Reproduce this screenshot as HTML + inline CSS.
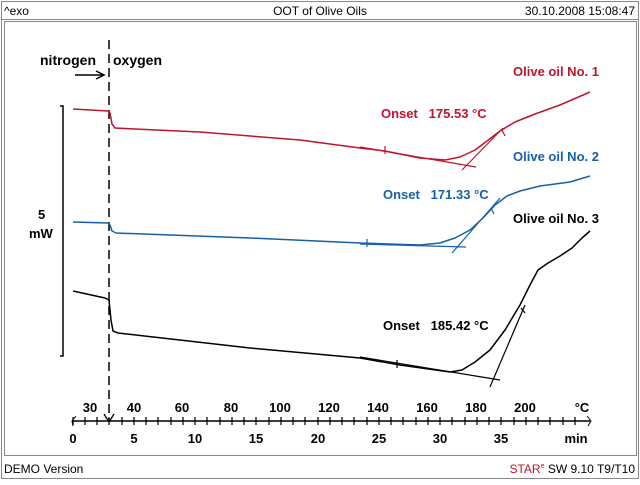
<!DOCTYPE html>
<html><head><style>
body{margin:0;background:#fff;}
svg text{font-family:"Liberation Sans",Arial,sans-serif;}
</style></head><body>
<svg width="640" height="480" viewBox="0 0 640 480" xmlns="http://www.w3.org/2000/svg">
<rect x="1.5" y="1.5" width="637" height="477" fill="#fff" stroke="#888"/>
<line x1="1.5" y1="19.5" x2="638.5" y2="19.5" stroke="#888"/>
<rect x="4.5" y="21.5" width="632" height="434" fill="none" stroke="#888"/>
<text x="4" y="15" font-size="12">^exo</text>
<text x="320" y="15" font-size="12" text-anchor="middle">OOT of Olive Oils</text>
<text x="635" y="15" font-size="12" text-anchor="end">30.10.2008 15:08:47</text>
<text x="4" y="473" font-size="12">DEMO Version</text>
<text x="635" y="473" font-size="12" text-anchor="end"><tspan fill="#c0142a">STAR</tspan><tspan fill="#c0142a" font-size="7" dy="-5">e</tspan><tspan dy="5"> SW 9.10 T9/T10</tspan></text>

<text x="40" y="65" font-size="14" font-weight="bold">nitrogen</text>
<text x="113" y="65" font-size="14" font-weight="bold">oxygen</text>
<line x1="75" y1="75" x2="103" y2="75" stroke="#000" stroke-width="1.5"/>
<path d="M96,71 L104,75 L96,79" fill="none" stroke="#000" stroke-width="1.5"/>
<line x1="109" y1="40" x2="109" y2="420" stroke="#000" stroke-width="1.5" stroke-dasharray="9,5"/>
<path d="M104,414 L109,422 L114,414" fill="none" stroke="#000" stroke-width="1.3"/>

<path d="M60,106 H63 V356 H60" fill="none" stroke="#000" stroke-width="1.5"/>
<text x="38" y="219" font-size="13" font-weight="bold">5</text>
<text x="29" y="238" font-size="13" font-weight="bold">mW</text>

<g fill="none" stroke-width="1.5" stroke-linejoin="round">
<path d="M73,109 L108,111 L110,113 L112,124 L115,128 L200,132 L300,140 L360,148 L385,151 L420,158 L445,160 L460,157 L475,150 L487,141 L500,131 L515,122 L535,114 L560,105 L590,92" stroke="#c0142a"/>
<path d="M360,147 L476,167 M462,170 L503,128 M385,146 L385,154 M502,130 L505,136" stroke="#c0142a" stroke-width="1.2"/>
<path d="M73,222 L108,223 L110,225 L112,231 L116,233 L250,238 L360,243 L420,245 L440,243 L455,238 L470,230 L483,218 L495,205 L507,196 L520,191 L540,186 L570,182 L590,176" stroke="#1760a8"/>
<path d="M360,244 L466,247 M452,253 L500,198 M367,239 L367,247 M491,208 L494,214" stroke="#1760a8" stroke-width="1.2"/>
<path d="M73,291 L105,298 L109,300 L111,320 L113,331 L118,333 L250,348 L360,358 L400,365 L450,372 L462,370 L475,362 L490,350 L505,330 L520,305 L530,285 L538,270 L548,263 L560,256 L572,248 L582,238 L590,231" stroke="#000"/>
<path d="M360,357 L500,380 M490,387 L525,305 M397,360 L397,368 M521,308 L525,313" stroke="#000" stroke-width="1.2"/>
</g>

<g font-size="13" font-weight="bold">
<text x="513" y="76" fill="#c0142a">Olive oil No. 1</text>
<text x="381" y="118" fill="#c0142a">Onset&#160;&#160;&#160;175.53 °C</text>
<text x="513" y="161" fill="#1760a8">Olive oil No. 2</text>
<text x="383" y="199" fill="#1760a8">Onset&#160;&#160;&#160;171.33 °C</text>
<text x="513" y="223" fill="#000">Olive oil No. 3</text>
<text x="383" y="330" fill="#000">Onset&#160;&#160;&#160;185.42 °C</text>
</g>

<line x1="73" y1="421" x2="590" y2="421" stroke="#000" stroke-width="1.5"/>
<path d="M76,416 L72,421 L73,426 M587,416 L591,421 L588,426" fill="none" stroke="#000"/>
<g stroke="#000" stroke-width="1.2">
<path d="M73,417V425 M85,417V425 M97,417V425 M109,417V425 M122,417V425 M134,417V425 M146,417V425 M158,417V425 M171,417V425 M183,417V425 M195,417V425 M207,417V425 M220,417V425 M232,417V425 M244,417V425 M256,417V425 M269,417V425 M281,417V425 M293,417V425 M305,417V425 M318,417V425 M330,417V425 M342,417V425 M354,417V425 M367,417V425 M379,417V425 M391,417V425 M403,417V425 M416,417V425 M428,417V425 M440,417V425 M452,417V425 M465,417V425 M477,417V425 M489,417V425 M501,417V425 M514,417V425 M526,417V425 M538,417V425 M550,417V425 M563,417V425 M575,417V425"/>
</g>
<g font-size="13" font-weight="bold" text-anchor="middle">
<text x="90" y="412">30</text><text x="134" y="412">40</text><text x="182" y="412">60</text><text x="231" y="412">80</text><text x="280" y="412">100</text><text x="329" y="412">120</text><text x="378" y="412">140</text><text x="427" y="412">160</text><text x="476" y="412">180</text><text x="525" y="412">200</text><text x="582" y="412">°C</text>
<text x="73" y="443">0</text><text x="134" y="443">5</text><text x="195" y="443">10</text><text x="256" y="443">15</text><text x="318" y="443">20</text><text x="379" y="443">25</text><text x="440" y="443">30</text><text x="501" y="443">35</text><text x="576" y="443">min</text>
</g>
</svg>
</body></html>
